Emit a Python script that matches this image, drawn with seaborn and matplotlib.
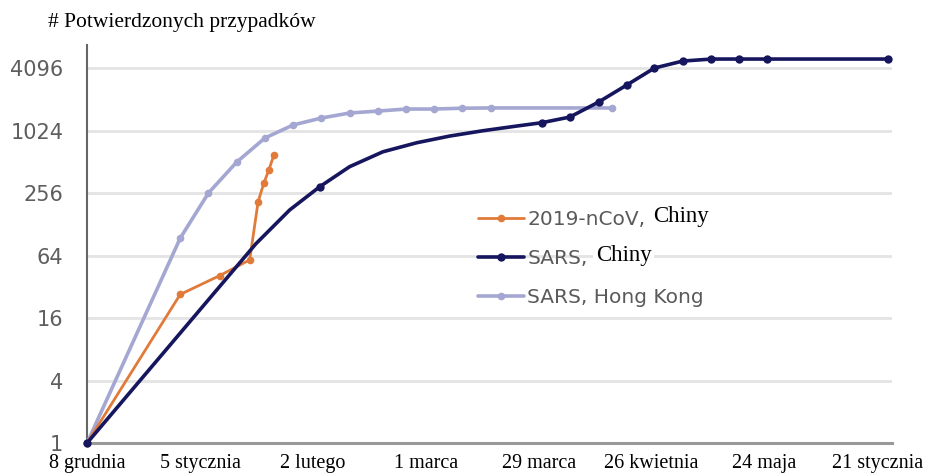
import matplotlib
matplotlib.use("Agg")
import matplotlib.pyplot as plt
import seaborn as sns
import pandas as pd
from matplotlib.lines import Line2D

# ---- data ----
ncov_day = [0, 16.5, 23.5, 28.8, 30.3, 31.3, 32.2, 33.1]
ncov_cases = [1, 27, 41, 58, 211, 317, 427, 595]

sars_cn_day = [0, 29.9, 35.9, 41.2, 46.5, 52.4, 58.4, 64.2, 70.1, 76.1, 80.5,
               85.5, 90.6, 95.6, 100.5, 105.5, 110.6, 115.5, 120.5, 141.8]
sars_cn_cases = [1, 83, 176, 294, 459, 639, 781, 905, 1019, 1131, 1217,
                 1380, 1925, 2810, 4096, 4780, 5000, 5000, 5000, 5000]
sars_cn_marked = [0, 3, 10, 11, 12, 13, 14, 15, 16, 17, 18, 19]

sars_hk_day = [0, 16.5, 21.5, 26.5, 31.5, 36.5, 41.5, 46.5, 51.5, 56.5, 61.5, 66.5, 71.5, 93]
sars_hk_cases = [1, 94, 256, 508, 867, 1158, 1351, 1510, 1576, 1650, 1650, 1680, 1690, 1690]

y_ticks = [1, 4, 16, 64, 256, 1024, 4096]
x_tick_pos = [0, 20, 40, 60, 80, 100, 120, 140]
x_tick_labels = ["8 grudnia", "5 stycznia", "2 lutego", "1 marca", "29 marca",
                 "26 kwietnia", "24 maja", "21 stycznia"]
legend_labels = ["2019-nCoV,", "SARS,", "SARS, Hong Kong"]
legend_suffix = ["Chiny", "Chiny", ""]
title = "# Potwierdzonych przypadków"

c_ncov = "#e07b39"
c_cn = "#16165e"
c_hk = "#a4a7d1"

sns.set_theme(style="white")
plt.rcParams["font.family"] = ["DejaVu Sans"]

W, H = 929, 473
fig = plt.figure(figsize=(W / 100, H / 100), dpi=100)
ax = fig.add_axes([0.0937, 0.0634, 0.866, 0.8415])

df_hk = pd.DataFrame({"day": sars_hk_day, "cases": sars_hk_cases})
df_ncov = pd.DataFrame({"day": ncov_day, "cases": ncov_cases})
df_cn = pd.DataFrame({"day": sars_cn_day, "cases": sars_cn_cases})

sns.lineplot(data=df_hk, x="day", y="cases", ax=ax, color=c_hk, lw=2.6,
             marker="o", markersize=5.5, markeredgewidth=0, zorder=3, clip_on=False)
sns.lineplot(data=df_ncov, x="day", y="cases", ax=ax, color=c_ncov, lw=2.0,
             marker="o", markersize=5.5, markeredgewidth=0, zorder=4, clip_on=False)
sns.lineplot(data=df_cn, x="day", y="cases", ax=ax, color=c_cn, lw=2.6,
             marker="o", markersize=6, markeredgewidth=0, markevery=sars_cn_marked,
             zorder=5, clip_on=False)

ax.set_yscale("log", base=2)
ax.set_ylim(1, 6830)
ax.set_xlim(0, 142.5)
ax.set_yticks(y_ticks)
ax.set_yticklabels([str(v) for v in y_ticks])
ax.minorticks_off()
ax.set_xticks(x_tick_pos)
ax.set_xticklabels(x_tick_labels, family="Liberation Serif", fontsize=14.5, color="black")
ax.set_xticks([p + 10 for p in x_tick_pos[:-1]], minor=True)

ax.tick_params(axis="y", which="both", direction="out", length=5, width=1.2,
               color="#777777", pad=12, labelsize=15, labelcolor="#5e5e5e")
ax.tick_params(axis="x", which="both", direction="in", length=3, width=1.2,
               color="#888888", pad=8)

for v in y_ticks[1:]:
    ax.axhline(v, color="#e4e4e4", lw=2, zorder=1)

for s in ["top", "right"]:
    ax.spines[s].set_visible(False)
ax.spines["left"].set_color("#666666")
ax.spines["left"].set_linewidth(1.5)
ax.spines["bottom"].set_color("#999999")
ax.spines["bottom"].set_linewidth(2.2)
ax.set_xlabel("")
ax.set_ylabel("")

handles = [
    Line2D([], [], color=c_ncov, lw=2.0, marker="o", markersize=5.5, markeredgewidth=0),
    Line2D([], [], color=c_cn, lw=2.6, marker="o", markersize=6, markeredgewidth=0),
    Line2D([], [], color=c_hk, lw=2.6, marker="o", markersize=5.5, markeredgewidth=0),
]
leg = ax.legend(handles, legend_labels, loc="upper left", bbox_to_anchor=(0.486, 0.585),
                frameon=False, borderpad=0, borderaxespad=0, handlelength=2.3,
                handletextpad=0.15, labelspacing=1.0, fontsize=14.5)
for t in leg.get_texts():
    t.set_color("#5a5a5a")

fig.text(48 / W, 1 - 22 / H, title, family="Liberation Serif", fontsize=15.5,
         color="black", ha="left", va="center")

# serif "Chiny" overlays following the legend labels
fig.canvas.draw()
renderer = fig.canvas.get_renderer()
for t, suffix in zip(leg.get_texts(), legend_suffix):
    if not suffix:
        continue
    bb = t.get_window_extent(renderer)
    fig.text((bb.x1 + 8) / W, (bb.y0 + bb.y1) / 2 / H + 3 / H, suffix,
             family="Liberation Serif", fontsize=16.5, color="black",
             ha="left", va="center", zorder=10,
             bbox=dict(facecolor="white", edgecolor="none", pad=2))

fig.savefig("out.png", dpi=100)
